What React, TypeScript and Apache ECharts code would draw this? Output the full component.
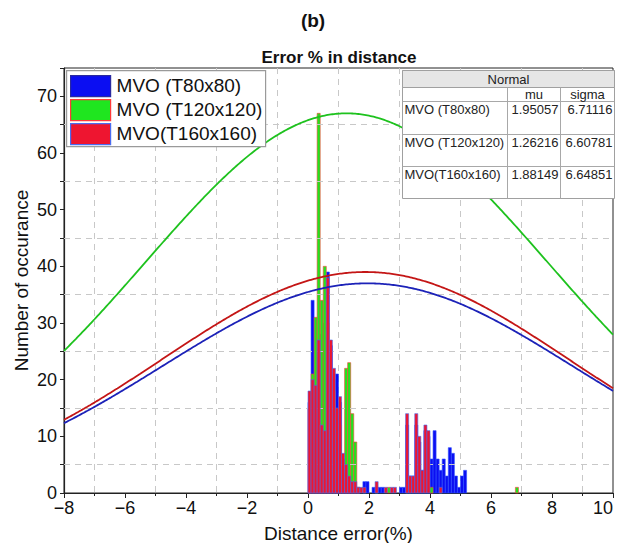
import React, { useEffect, useRef } from "react";
import * as echarts from "echarts";

// Histogram bins: left edges (%), each bin is BIN_WIDTH wide
const BIN_WIDTH = 0.1;
const binStarts = [
  0.0, 0.1, 0.2, 0.3, 0.4, 0.5, 0.6, 0.7, 0.8, 0.9,
  1.0, 1.1, 1.2, 1.3, 1.4, 1.5, 1.6, 1.7, 1.8, 1.9,
  2.0, 2.1, 2.2, 2.3, 2.4, 2.5, 2.6, 2.7, 2.8, 2.9,
  3.0, 3.1, 3.2, 3.3, 3.4, 3.5, 3.6, 3.7, 3.8, 3.9,
  4.0, 4.1, 4.2, 4.3, 4.4, 4.5, 4.6, 4.7, 4.8, 4.9,
  5.0, 5.1, 6.8,
];

// Counts per bin for each run
const countsT80 = [
  16, 34, 18, 24, 28, 30, 39, 26, 20, 21,
  16, 6, 4, 3, 2, 1, 1, 0, 2, 2,
  0, 1, 1, 1, 1, 0, 0, 0, 0, 0,
  1, 1, 12, 3, 3, 12, 9, 4, 11, 10,
  6, 11, 6, 4, 6, 3, 8, 7, 3, 1,
  3, 4, 0,
];
const countsT120 = [
  15, 21, 31, 67, 34, 40, 30, 20, 18, 12,
  12, 6, 22, 23, 14, 9, 1, 0, 0, 0,
  0, 0, 0, 0, 0, 0, 1, 0, 0, 0,
  0, 0, 0, 0, 0, 0, 0, 0, 0, 0,
  1, 0, 0, 0, 0, 0, 0, 0, 0, 0,
  0, 0, 1,
];
const countsT160 = [
  18, 20, 19, 27, 12, 11, 38, 27, 22, 15,
  17, 7, 5, 3, 2, 2, 1, 1, 1, 0,
  0, 0, 2, 0, 0, 1, 0, 1, 1, 0,
  0, 0, 14, 3, 3, 14, 10, 4, 12, 11,
  0, 0, 0, 1, 0, 0, 0, 0, 0, 0,
  0, 0, 0,
];

// Fitted normal distributions (table values) and curve peak heights
const seriesNames = ["MVO (T80x80)", "MVO (T120x120)", "MVO(T160x160)"];
const fitMu = [1.95057, 1.26216, 1.88149];
const fitSigma = [6.71116, 6.60781, 6.64851];
const fitPeak = [37, 67, 39];
const muLabels = ["1.95057", "1.26216", "1.88149"];
const sigmaLabels = ["6.71116", "6.60781", "6.64851"];

// Axis ranges and gridline positions
const xMin = -8;
const xMax = 10;
const yMin = 0;
const yMax = 75;
const yGridValues = [5, 15, 25, 35, 45, 55, 65];

const barFill = ["#0b0ef2", "#1fe61f", "#ee1530"];
const barEdge = ["#2f52ff", "#ff3a3a", "#4a6cf0"];
const curveColor = ["#1c22b8", "#1ec21e", "#c41616"];

const FONT = "'Liberation Sans', Arial, Helvetica, sans-serif";
const TOP_Z = 100;

function normalCurve(mu: number, sigma: number, peak: number): number[][] {
  const pts: number[][] = [];
  const steps = 360;
  for (let i = 0; i <= steps; i++) {
    const x = xMin + ((xMax - xMin) * i) / steps;
    const z = (x - mu) / sigma;
    pts.push([x, peak * Math.exp(-0.5 * z * z)]);
  }
  return pts;
}

function histSeries(idx: number, counts: number[]) {
  return {
    type: "custom",
    name: seriesNames[idx],
    z: 3 + idx,
    data: binStarts.map((b, i) => [b, counts[i]]),
    encode: { x: 0, y: 1 },
    renderItem: (_params: any, api: any) => {
      const x0 = api.value(0);
      const h = api.value(1);
      if (!h) return null;
      const p0 = api.coord([x0, h]);
      const p1 = api.coord([x0 + BIN_WIDTH, 0]);
      return {
        type: "rect",
        shape: { x: p0[0], y: p0[1], width: p1[0] - p0[0], height: p1[1] - p0[1] },
        style: { fill: barFill[idx], stroke: barEdge[idx], lineWidth: 0.6 },
      };
    },
  };
}

function legendGraphic() {
  const children: any[] = [
    {
      type: "rect",
      z: TOP_Z,
      shape: { x: 0, y: 0, width: 199, height: 76 },
      style: { fill: "#ffffff", stroke: "#9a9a9a", lineWidth: 1.2 },
    },
  ];
  seriesNames.forEach((name, i) => {
    const cy = 15 + i * 24;
    children.push({
      type: "rect",
      z: TOP_Z + 1,
      shape: { x: 4, y: cy - 10, width: 40, height: 21 },
      style: { fill: barFill[i], stroke: i === 0 ? "#2a2aa0" : barEdge[i], lineWidth: 1.2 },
    });
    children.push({
      type: "text",
      z: TOP_Z + 1,
      x: 50,
      y: cy,
      style: {
        text: name,
        font: `19px ${FONT}`,
        fill: "#111",
        verticalAlign: "middle",
        align: "left",
      },
    });
  });
  return { type: "group", left: 66, top: 70, z: TOP_Z, children };
}

function tableGraphic() {
  const w = 212;
  const c1 = 105;
  const c2 = 158;
  const rowTops = [0, 17, 31, 64, 96, 128];
  const children: any[] = [
    { type: "rect", z: TOP_Z, shape: { x: 0, y: 0, width: w, height: rowTops[5] }, style: { fill: "#ffffff", stroke: "#a0a0a0", lineWidth: 1 } },
    { type: "rect", z: TOP_Z + 1, shape: { x: 0, y: 0, width: w, height: rowTops[1] }, style: { fill: "#e6e6e6", stroke: "#a0a0a0", lineWidth: 1 } },
  ];
  const line = (x1: number, y1: number, x2: number, y2: number) => ({
    type: "line",
    z: TOP_Z + 1,
    shape: { x1, y1, x2, y2 },
    style: { stroke: "#a8a8a8", lineWidth: 1 },
  });
  children.push(line(0, rowTops[2], w, rowTops[2]));
  children.push(line(0, rowTops[3], w, rowTops[3]));
  children.push(line(0, rowTops[4], w, rowTops[4]));
  children.push(line(c1, rowTops[1], c1, rowTops[5]));
  children.push(line(c2, rowTops[1], c2, rowTops[5]));
  const txt = (text: string, x: number, y: number, align: string) => ({
    type: "text",
    z: TOP_Z + 2,
    x,
    y,
    style: { text, font: `13px ${FONT}`, fill: "#222", align, verticalAlign: "middle" },
  });
  children.push(txt("Normal", w / 2, 8.5, "center"));
  children.push(txt("mu", (c1 + c2) / 2, 24, "center"));
  children.push(txt("sigma", (c2 + w) / 2, 24, "center"));
  seriesNames.forEach((name, i) => {
    const y = rowTops[2 + i] + 8;
    children.push(txt(name, 2, y, "left"));
    children.push(txt(muLabels[i], c2 - 2, y, "right"));
    children.push(txt(sigmaLabels[i], w - 2, y, "right"));
  });
  return { type: "group", left: 400, top: 70, z: TOP_Z, children };
}

export default function App() {
  const ref = useRef<HTMLDivElement>(null);

  useEffect(() => {
    if (!ref.current) return;
    const chart = echarts.init(ref.current, undefined, { renderer: "svg" });

    const curves = [0, 1, 2].map((i) => ({
      type: "line",
      name: seriesNames[i] + " fit",
      z: 10,
      showSymbol: false,
      symbol: "none",
      smooth: false,
      data: normalCurve(fitMu[i], fitSigma[i], fitPeak[i]),
      lineStyle: { color: curveColor[i], width: 1.8 },
      silent: true,
    }));

    const option: any = {
      animation: false,
      backgroundColor: "#ffffff",
      textStyle: { fontFamily: FONT },
      grid: {
        left: 64,
        right: 6,
        top: 68,
        bottom: 50,
        containLabel: false,
        outerBoundsMode: "none",
        show: true,
        borderColor: "#222",
        borderWidth: 1,
      },
      xAxis: {
        type: "value",
        min: xMin,
        max: xMax,
        interval: 2,
        name: "Distance error(%)",
        nameLocation: "middle",
        nameGap: 31,
        nameMoveOverlap: false,
        nameTextStyle: { fontSize: 19, color: "#111", fontFamily: FONT },
        axisLine: { show: true, onZero: false, lineStyle: { color: "#222", width: 1.2 } },
        axisTick: { show: true, inside: false, length: 5, lineStyle: { color: "#222" } },
        minorTick: { show: true, splitNumber: 2, length: 3, lineStyle: { color: "#222" } },
        splitLine: { show: false },
        minorSplitLine: { show: true, lineStyle: { color: "#c8c8c8", type: [6, 5], width: 1 } },
        axisLabel: {
          fontSize: 18,
          color: "#111",
          margin: 6,
          fontFamily: FONT,
          alignMaxLabel: "right",
          formatter: (v: number) => String(v).replace("-", "\u2212"),
        },
      },
      yAxis: {
        type: "value",
        min: yMin,
        max: yMax,
        interval: 5,
        name: "Number of occurance",
        nameLocation: "middle",
        nameGap: 33,
        nameMoveOverlap: false,
        nameTextStyle: { fontSize: 19, color: "#111", fontFamily: FONT },
        axisLine: { show: true, onZero: false, lineStyle: { color: "#222", width: 1.2 } },
        axisTick: { show: true, inside: false, length: 4, lineStyle: { color: "#222" } },
        splitLine: { show: false },
        axisLabel: {
          fontSize: 18,
          color: "#111",
          margin: 7,
          fontFamily: FONT,
          formatter: (v: number) => (v % 10 === 0 ? String(v) : ""),
        },
      },
      series: [
        {
          type: "line",
          data: [],
          z: 1,
          silent: true,
          markLine: {
            silent: true,
            symbol: "none",
            label: { show: false },
            lineStyle: { color: "#c8c8c8", type: [6, 5], width: 1 },
            data: yGridValues.map((v) => ({ yAxis: v })),
          },
        },
        histSeries(0, countsT80),
        histSeries(1, countsT120),
        histSeries(2, countsT160),
        ...curves,
      ],
      graphic: [
        {
          type: "text",
          x: 313,
          y: 20,
          style: { text: "(b)", font: `bold 19px ${FONT}`, fill: "#111", align: "center", verticalAlign: "middle" },
        },
        {
          type: "text",
          x: 339,
          y: 57,
          style: { text: "Error % in distance", font: `bold 17px ${FONT}`, fill: "#111", align: "center", verticalAlign: "middle" },
        },
        legendGraphic(),
        tableGraphic(),
      ],
    };

    chart.setOption(option);
    return () => chart.dispose();
  }, []);

  return (
    <div
      ref={ref}
      style={{ position: "fixed", left: 0, top: 0, width: 619, height: 543, background: "#fff" }}
    />
  );
}
